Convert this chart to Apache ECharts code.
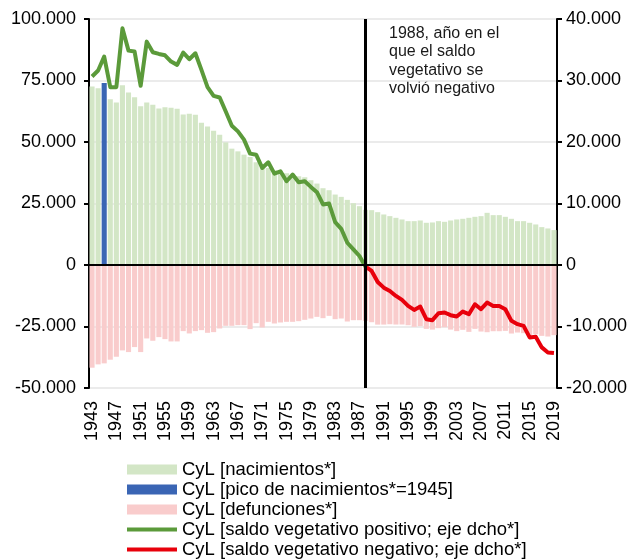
<!DOCTYPE html>
<html>
<head>
<meta charset="utf-8">
<script src="https://cdn.jsdelivr.net/npm/echarts@6/dist/echarts.min.js"></script>
<style>
  html, body { margin: 0; padding: 0; background: #fff; }
  #chart { width: 635px; height: 560px; }
</style>
</head>
<body>
<div id="chart"></div>
<script>
// Castilla y León: nacimientos, defunciones y saldo vegetativo, 1943-2019
var years = ['1943','1944','1945','1946','1947','1948','1949','1950','1951','1952',
  '1953','1954','1955','1956','1957','1958','1959','1960','1961','1962',
  '1963','1964','1965','1966','1967','1968','1969','1970','1971','1972',
  '1973','1974','1975','1976','1977','1978','1979','1980','1981','1982',
  '1983','1984','1985','1986','1987','1988','1989','1990','1991','1992',
  '1993','1994','1995','1996','1997','1998','1999','2000','2001','2002',
  '2003','2004','2005','2006','2007','2008','2009','2010','2011','2012',
  '2013','2014','2015','2016','2017','2018','2019'];

// Nacimientos (1945 se dibuja aparte como pico)
var nacimientos = [72550, 71870, null, 67400, 66060, 73090, 70120, 68230, 64580, 66060,
  65120, 63630, 64170, 63900, 63500, 61200, 61470, 61060, 57820, 56340,
  54580, 52960, 49850, 47290, 46200, 44850, 43910, 41750, 40940, 39450,
  38500, 37830, 37290, 36610, 36070, 35670, 34450, 33100, 31210, 30400,
  28640, 27700, 26480, 25130, 23910, 22430, 22290, 21480, 20540, 19860,
  19180, 18510, 17830, 17830, 18100, 17160, 17290, 17830, 17560, 18100,
  18510, 18780, 19180, 19590, 19860, 21210, 20270, 20270, 19590, 18780,
  17830, 17830, 17160, 16480, 15400, 14860, 14190];

var picoAnio = '1945';
var picoValor = 74030;

// Defunciones (en negativo)
var defunciones = [-41750, -40400, -39990, -38500, -37290, -34720, -35400, -33370, -35400, -29860,
  -30800, -29320, -30130, -31070, -31070, -26880, -27830, -26880, -26480, -27560,
  -27290, -25800, -24720, -24720, -24450, -24450, -26070, -23640, -25400, -23100,
  -23780, -23370, -23100, -23100, -22830, -22290, -21750, -21080, -21620, -20670,
  -22020, -21750, -22970, -22430, -22430, -22700, -23260, -24240, -24220, -24080,
  -24210, -24190, -24480, -25130, -24860, -25970, -26260, -25670, -25290, -26260,
  -26890, -26350, -27180, -25970, -27050, -27320, -26920, -26920, -26780, -27860,
  -27450, -27720, -28940, -28150, -28800, -29080, -28510];

// Saldo vegetativo positivo, 1943-1988
var saldoPositivo = [30650, 31620, 33890, 28920, 28920, 38480, 34860, 34700, 29130, 36320,
  34590, 34320, 34100, 33080, 32540, 34540, 33460, 34430, 31730, 28920,
  27510, 27240, 24970, 22650, 21730, 20380, 18110, 17940, 15780, 16700,
  14860, 15240, 13620, 14700, 13460, 13620, 12700, 11840, 9840, 10000,
  6970, 5890, 3620, 2540, 1460, -270];

// Saldo vegetativo negativo, 1988-2019
var saldoNegativo = [-270, -970, -2760, -3680, -4220, -5030, -5680, -6650, -7300, -6760,
  -8810, -8970, -7840, -7730, -8160, -8380, -7570, -8000, -6380, -7190,
  -6110, -6650, -6650, -7190, -9080, -9620, -9890, -11780, -11670, -13400,
  -14220, -14320];

var anioCambio = '1988';

var ejeIzq = { min: -50000, max: 100000, interval: 25000 };
var ejeDcho = { min: -20000, max: 40000, interval: 10000 };

var nombres = [
  'CyL [nacimientos*]',
  'CyL [pico de nacimientos*=1945]',
  'CyL [defunciones*]',
  'CyL [saldo vegetativo positivo; eje dcho*]',
  'CyL [saldo vegetativo negativo; eje dcho*]'
];

function miles(v) {
  var s = String(Math.abs(v)).replace(/\B(?=(\d{3})+(?!\d))/g, '.');
  return (v < 0 ? '-' : '') + s;
}

// Series alineadas con el eje de categorías
var picoSerie = years.map(function (y) { return y === picoAnio ? picoValor : null; });
var iCambio = years.indexOf(anioCambio);
var positivoSerie = years.map(function (y, i) { return i < saldoPositivo.length ? saldoPositivo[i] : null; });
var negativoSerie = years.map(function (y, i) { return i >= iCambio ? saldoNegativo[i - iCambio] : null; });

var FONT = 'Liberation Sans, Arial, sans-serif';
var LINE_ICON = 'path://M0,0L50,0L50,4L0,4Z';
var chart = echarts.init(document.getElementById('chart'), null, { renderer: 'canvas' });

chart.setOption({
  animation: false,
  backgroundColor: '#ffffff',
  textStyle: { fontFamily: FONT },
  grid: { left: 89, right: 78, top: 19, bottom: 172, containLabel: false },
  legend: {
    orient: 'vertical',
    left: 127,
    top: 460,
    padding: 0,
    itemWidth: 50,
    itemHeight: 10,
    itemGap: 1,
    selectedMode: false,
    textStyle: { fontFamily: FONT, fontSize: 18.5, color: '#000', lineHeight: 19 },
    data: [
      { name: nombres[0], icon: 'rect' },
      { name: nombres[1], icon: 'rect' },
      { name: nombres[2], icon: 'rect' },
      { name: nombres[3], icon: LINE_ICON },
      { name: nombres[4], icon: LINE_ICON }
    ]
  },
  xAxis: {
    type: 'category',
    data: years,
    boundaryGap: true,
    axisLine: { show: false, onZero: false },
    axisTick: { show: false },
    axisLabel: {
      interval: 3,
      rotate: 90,
      margin: 13,
      fontFamily: FONT,
      fontSize: 18,
      color: '#000'
    },
    splitLine: { show: false }
  },
  yAxis: [
    {
      type: 'value',
      min: ejeIzq.min, max: ejeIzq.max, interval: ejeIzq.interval,
      axisLine: { show: true, lineStyle: { color: '#000', width: 2 } },
      axisTick: { show: true, length: 5, lineStyle: { color: '#000', width: 2 } },
      axisLabel: { formatter: miles, fontFamily: FONT, fontSize: 18, color: '#000', margin: 13 },
      splitLine: { show: true, lineStyle: { color: '#e4e4e4', width: 1.5 } }
    },
    {
      type: 'value',
      position: 'right',
      min: ejeDcho.min, max: ejeDcho.max, interval: ejeDcho.interval,
      axisLine: { show: true, lineStyle: { color: '#000', width: 2 } },
      axisTick: { show: true, length: 5, lineStyle: { color: '#000', width: 2 } },
      axisLabel: { formatter: miles, fontFamily: FONT, fontSize: 18, color: '#000', margin: 9 },
      splitLine: { show: false }
    }
  ],
  series: [
    {
      name: nombres[0],
      type: 'bar',
      data: nacimientos,
      barCategoryGap: '16%',
      barGap: '-100%',
      itemStyle: { color: '#d3e6c6' },
      z: 2
    },
    {
      name: nombres[1],
      type: 'bar',
      data: picoSerie,
      barCategoryGap: '16%',
      barGap: '-100%',
      itemStyle: { color: '#3a65b4' },
      z: 2
    },
    {
      name: nombres[2],
      type: 'bar',
      data: defunciones,
      barCategoryGap: '16%',
      barGap: '-100%',
      itemStyle: { color: '#f9cccc' },
      z: 2,
      markLine: {
        silent: true,
        symbol: 'none',
        label: { show: false },
        data: [
          { yAxis: 0, lineStyle: { color: '#000', width: 2, type: 'solid' } },
          { xAxis: anioCambio, lineStyle: { color: '#000', width: 3, type: 'solid' } }
        ]
      }
    },
    {
      name: nombres[3],
      type: 'line',
      yAxisIndex: 1,
      data: positivoSerie,
      symbol: 'none',
      showSymbol: false,
      connectNulls: false,
      lineStyle: { color: '#5b9a3a', width: 4, join: 'round' },
      itemStyle: { color: '#5b9a3a' },
      z: 4
    },
    {
      name: nombres[4],
      type: 'line',
      yAxisIndex: 1,
      data: negativoSerie,
      symbol: 'none',
      showSymbol: false,
      connectNulls: false,
      lineStyle: { color: '#e8000b', width: 4, join: 'round' },
      itemStyle: { color: '#e8000b' },
      z: 4
    }
  ],
  graphic: [
    {
      type: 'text',
      left: 389,
      top: 24,
      style: {
        text: '1988, año en el\nque el saldo\nvegetativo se\nvolvió negativo',
        font: '16px ' + FONT,
        fill: '#1a1a1a',
        lineHeight: 18.5
      }
    }
  ]
});
</script>
</body>
</html>
